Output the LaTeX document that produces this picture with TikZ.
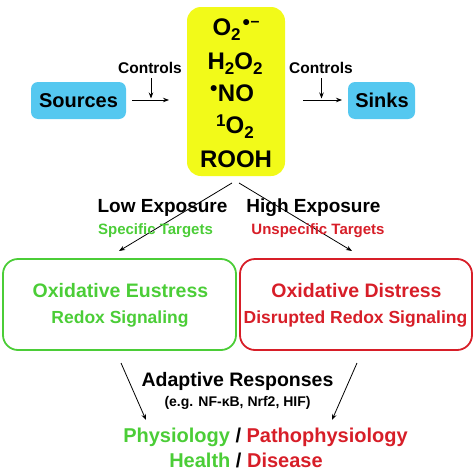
\documentclass[tikz,border=0pt]{standalone}
\usepackage{fontspec}
\setmainfont{Liberation Sans}
\usetikzlibrary{arrows.meta}
\definecolor{eugreen}{RGB}{75,205,55}
\definecolor{disred}{RGB}{215,30,40}
\definecolor{boxblue}{RGB}{85,200,240}
\definecolor{rosyellow}{RGB}{242,250,25}
\tikzset{
  txt/.style={inner sep=0pt, anchor=base, font=\bfseries},
  arr/.style={-{Stealth[length=6pt,width=4.5pt]}, line width=0.8pt, black},
  bluebox/.style={fill=boxblue, rounded corners=7pt, draw=none, inner sep=0pt},
  outbox/.style={rounded corners=15pt, line width=1.8pt, fill=none, inner sep=0pt},
}
\newcommand{\fs}[1]{\fontsize{#1}{#1}\selectfont}
\newcommand{\chsub}[1]{\raisebox{-5pt}{\fs{17}#1}}
\newcommand{\chsupr}[1]{\raisebox{7pt}{\fs{17}#1}}
\newcommand{\chrad}{\raisebox{5.5pt}{\fs{21}•}}
\begin{document}
\begin{tikzpicture}[x=1pt,y=-1pt]
\useasboundingbox (0,0) rectangle (474,474);
% yellow ROS box
\node[fill=rosyellow, rounded corners=14pt, minimum width=98pt, minimum height=169pt, inner sep=0pt] (ros) at (236,91.5) {};
\node[txt] (o2) at (236,35) {\fs{24}O\chsub{2}\kern2pt\chrad\kern0.5pt\raisebox{8.4pt}{\fs{16}–}};
\node[txt] (h2o2) at (235,69) {\fs{24}H\chsub{2}O\chsub{2}};
\node[txt] (no) at (232,101) {\fs{24}\chrad\kern0.5pt NO};
\node[txt] (singlet) at (235,133) {\fs{24}\chsupr{1}O\chsub{2}};
\node[txt] (rooh) at (236,167) {\fs{24}ROOH};
% sources and sinks
\node[bluebox, minimum width=95pt, minimum height=37pt] (srcbox) at (78.5,100.5) {};
\node[txt] (src) at (78.5,107) {\fs{20}Sources};
\node[bluebox, minimum width=67pt, minimum height=37pt] (sinkbox) at (381.5,100.5) {};
\node[txt] (sink) at (382,107) {\fs{20}Sinks};
% controls
\node[txt] (ctl1) at (150,73) {\fs{15.5}Controls};
\node[txt] (ctl2) at (321,73) {\fs{15.5}Controls};
\coordinate (a1s) at (132,100); \coordinate (a1e) at (169,100);
\coordinate (c1s) at (151,78); \coordinate (c1e) at (151,98.5);
\coordinate (a2s) at (303,100); \coordinate (a2e) at (342,100);
\coordinate (c2s) at (321.5,78); \coordinate (c2e) at (321.5,98.5);
\draw[arr] (a1s) -- (a1e);
\draw[arr] (c1s) -- (c1e);
\draw[arr] (a2s) -- (a2e);
\draw[arr] (c2s) -- (c2e);
% exposure arrows
\coordinate (l0) at (232,183); \coordinate (l1) at (119,251);
\coordinate (r0) at (239,183); \coordinate (r1) at (352,251);
\draw[arr] (l0) -- (l1);
\draw[arr] (r0) -- (r1);
\node[txt] (low) at (162.5,212) {\fs{19}Low Exposure};
\node[txt] (high) at (313.5,212) {\fs{19}High Exposure};
\node[txt, text=eugreen] (spec) at (155.5,234) {\fs{15}Specific Targets};
\node[txt, text=disred] (unspec) at (318,234) {\fs{15}Unspecific Targets};
% outcome boxes
\node[outbox, draw=eugreen, minimum width=233pt, minimum height=91pt] (eubox) at (119.5,304.5) {};
\node[outbox, draw=disred, minimum width=232pt, minimum height=91pt] (disbox) at (356,304.5) {};
\node[txt, text=eugreen] (eu1) at (120.5,297) {\fs{19.5}Oxidative Eustress};
\node[txt, text=eugreen] (eu2) at (120,323) {\fs{17.5}Redox Signaling};
\node[txt, text=disred] (dis1) at (356.5,297) {\fs{19.5}Oxidative Distress};
\node[txt, text=disred] (dis2) at (355.5,323) {\fs{17.5}Disrupted Redox Signaling};
% bottom
\coordinate (b1s) at (121,363); \coordinate (b1e) at (146,420);
\coordinate (b2s) at (357,363); \coordinate (b2e) at (332,420);
\draw[arr] (b1s) -- (b1e);
\draw[arr] (b2s) -- (b2e);
\node[txt] (adapt) at (237.5,386) {\fs{19.5}Adaptive Responses};
\node[txt] (eg) at (237.5,406) {\fs{14}(e.g. NF-κB, Nrf2, HIF)};
\node[txt] (phys) at (265.5,442) {\fs{20}\textcolor{eugreen}{Physiology} / \textcolor{disred}{Pathophysiology}};
\node[txt] (health) at (246,467) {\fs{20}\textcolor{eugreen}{Health} / \textcolor{disred}{Disease}};
\end{tikzpicture}
\end{document}
